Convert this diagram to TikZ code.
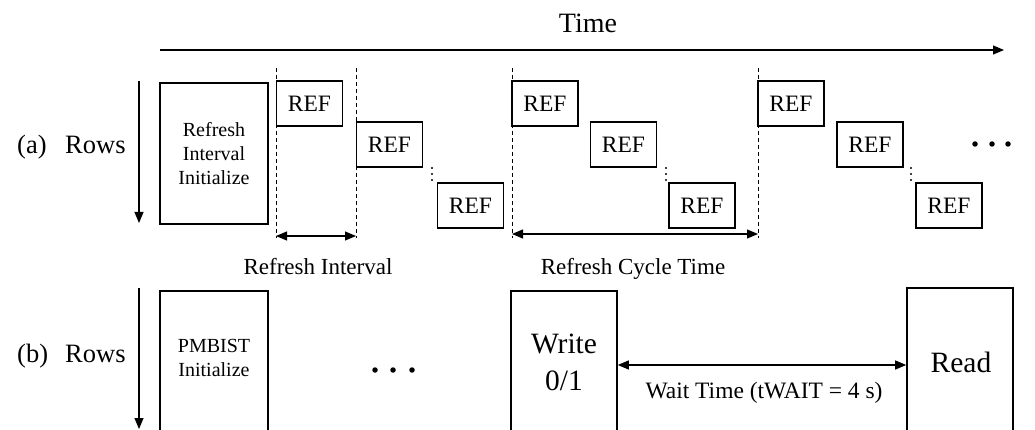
\documentclass[tikz,border=0pt]{standalone}
\usepackage{fontspec}
\setmainfont{Liberation Serif}
\usetikzlibrary{arrows.meta}
\tikzset{
  refbox/.style={draw, line width=1.3pt, minimum width=66pt, minimum height=45pt, inner sep=0pt, font=\fontsize{23.5}{23.5}\selectfont},
  bigbox/.style={draw, line width=1.6pt, inner sep=0pt},
  initbox/.style={draw, line width=2.2pt, inner sep=0pt},
  guide/.style={line width=0.8pt, dash pattern=on 4pt off 3pt},
  arr/.style={line width=1.1pt, -{Triangle[length=11pt,width=9pt]}},
  darr/.style={line width=1.1pt, {Triangle[length=11pt,width=9pt]}-{Triangle[length=11pt,width=9pt]}},
  lbl/.style={inner sep=0pt, font=\fontsize{26.5}{26.5}\selectfont},
  midlbl/.style={inner sep=0pt, font=\fontsize{23}{23}\selectfont},
  vdot/.style={circle, fill, inner sep=0pt, minimum size=2.4pt},
  hdot/.style={circle, fill, inner sep=0pt, minimum size=5.5pt},
}
\begin{document}
\begin{tikzpicture}[x=1pt,y=-1pt]
\useasboundingbox (0,0) rectangle (1035,430);
\clip (0,0) rectangle (1035,430);

% Time axis
\coordinate (t0) at (160,50);
\coordinate (t1) at (1004,50);
\draw[arr] (t0) -- (t1);
\node[lbl, font=\fontsize{28}{28}\selectfont] (time) at (588,23) {Time};

% (a) row
\node[lbl, anchor=base west] (la) at (17,154) {(a)};
\node[lbl, anchor=base west] (ra) at (65,154) {Rows};
\coordinate (ra0) at (139,81);
\coordinate (ra1) at (139,223);
\draw[arr] (ra0) -- (ra1);

\node[initbox, minimum width=108pt, minimum height=141pt, align=center,
      font=\fontsize{20}{24}\selectfont] (init) at (214,153.5) {Refresh\\Interval\\Initialize};

% dashed guides
\foreach \n/\x in {1/276,2/356,3/512,4/758}{
  \coordinate (g\n t) at (\x,68);
  \coordinate (g\n b) at (\x,238);
  \draw[guide] (g\n t) -- (g\n b);
}

\node[refbox] (ref1) at (309.5,103.5) {REF};
\node[refbox] (ref2) at (389.5,144.5) {REF};
\node[refbox] (ref3) at (470.5,205.5) {REF};
\node[refbox] (ref4) at (545,103.5) {REF};
\node[refbox] (ref5) at (623.5,144.5) {REF};
\node[refbox] (ref6) at (702,205.5) {REF};
\node[refbox] (ref7) at (791,103.5) {REF};
\node[refbox] (ref8) at (870,144.5) {REF};
\node[refbox] (ref9) at (949,205.5) {REF};

% vertical dots
\foreach \x/\k in {432/a,666/b,911/c}{
  \node[vdot] (v\k1) at (\x,168) {};
  \node[vdot] (v\k2) at (\x,174) {};
  \node[vdot] (v\k3) at (\x,180) {};
}

% horizontal dots (a)
\node[hdot] (ha1) at (975,144) {};
\node[hdot] (ha2) at (992,144) {};
\node[hdot] (ha3) at (1008,144) {};

% interval arrows
\coordinate (ri0) at (276,236);
\coordinate (ri1) at (356,236);
\draw[darr] (ri0) -- (ri1);
\node[midlbl, anchor=base] (ril) at (318,274) {Refresh Interval};

\coordinate (rc0) at (512,234);
\coordinate (rc1) at (758,234);
\draw[darr] (rc0) -- (rc1);
\node[midlbl, anchor=base] (rcl) at (633,274) {Refresh Cycle Time};

% (b) row
\node[lbl, anchor=base west] (lb) at (17,362) {(b)};
\node[lbl, anchor=base west] (rb) at (65,362) {Rows};
\coordinate (rb0) at (139,288);
\coordinate (rb1) at (139,429);
\draw[arr] (rb0) -- (rb1);

\node[bigbox, minimum width=108pt, minimum height=200pt] (pm) at (214,391) {};
\node[inner sep=0pt, align=center, font=\fontsize{20}{24}\selectfont] (pmt) at (214,358) {PMBIST\\Initialize};

\node[hdot] (hb1) at (375,370) {};
\node[hdot] (hb2) at (393,370) {};
\node[hdot] (hb3) at (412,370) {};

\node[bigbox, minimum width=106pt, minimum height=200pt] (wr) at (564,391) {};
\node[inner sep=0pt, align=center, font=\fontsize{29.5}{37}\selectfont] (wrt) at (564,362) {Write\\0/1};

\node[bigbox, minimum width=106pt, minimum height=200pt] (rd) at (960,388) {};
\node[inner sep=0pt, font=\fontsize{29.5}{29.5}\selectfont] (rdt) at (961,362) {Read};

\coordinate (w0) at (wr.east |- 0,365);
\coordinate (w1) at (rd.west |- 0,365);
\draw[darr] (w0) -- (w1);
\node[midlbl, font=\fontsize{23.5}{23.5}\selectfont, anchor=base] (wl) at (764,398) {Wait Time (tWAIT = 4 s)};
\end{tikzpicture}
\end{document}
